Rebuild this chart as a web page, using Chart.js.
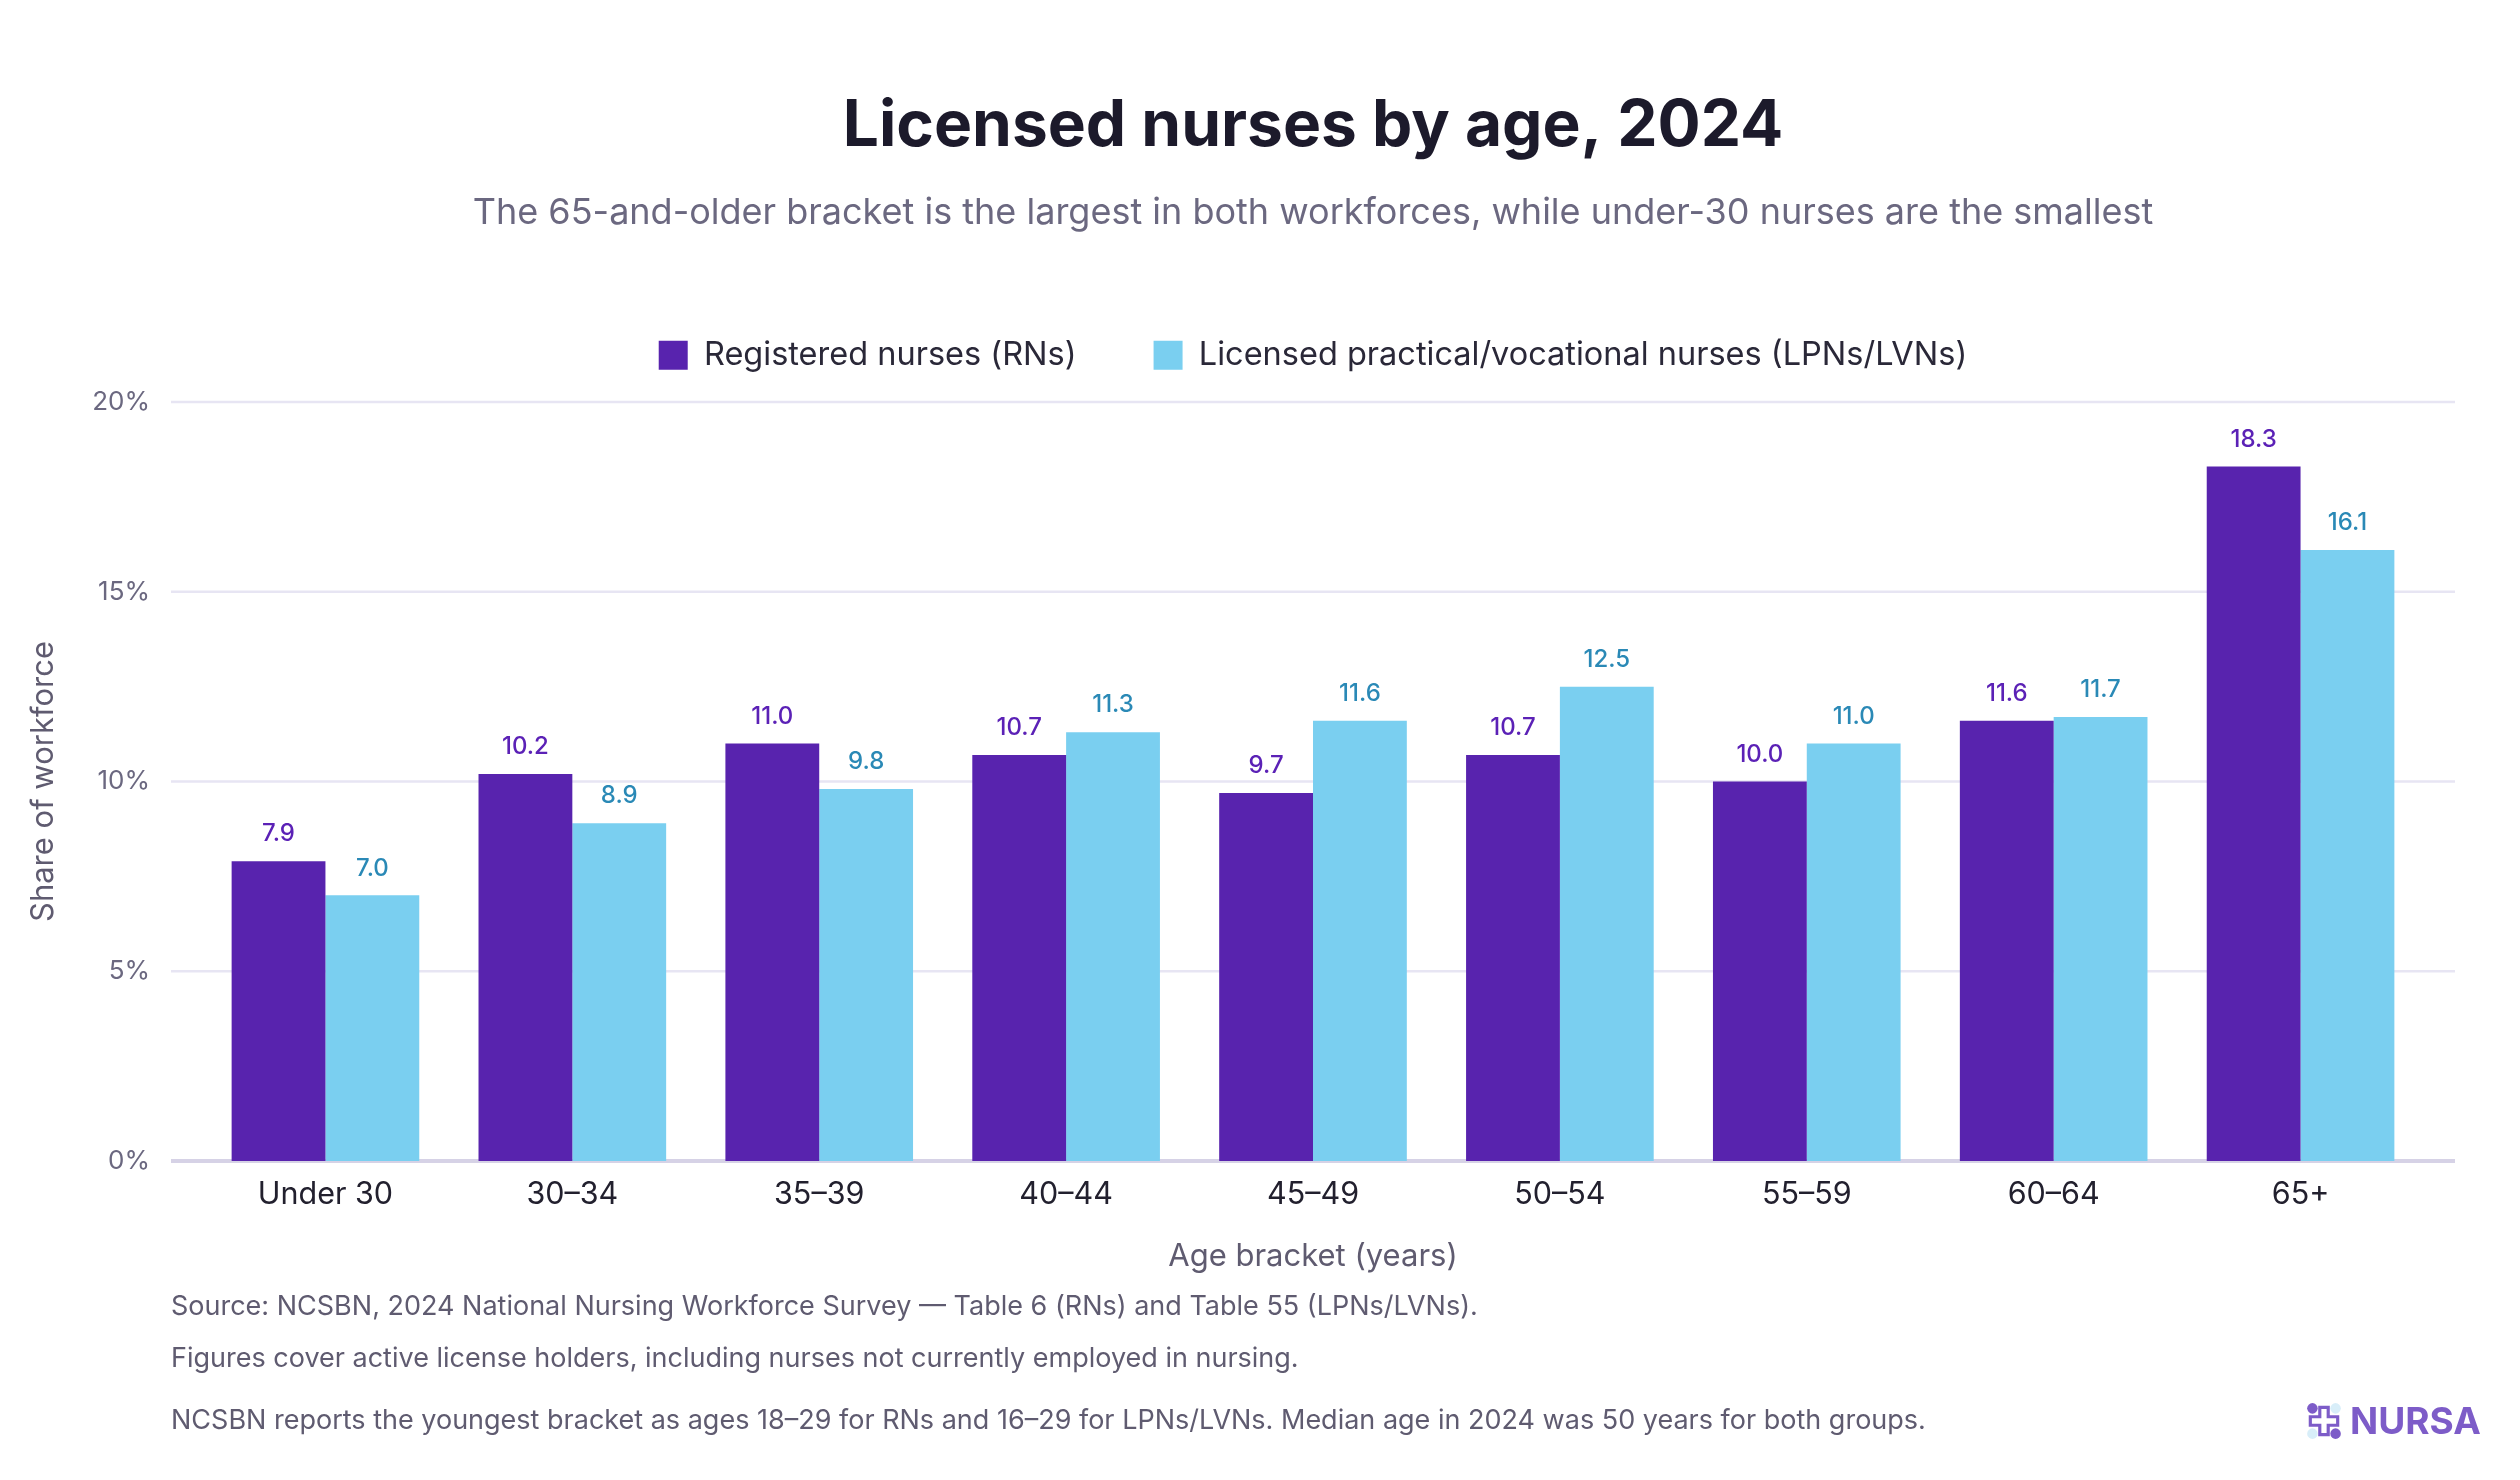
<!DOCTYPE html>
<html>
<head>
<meta charset="utf-8">
<script src="https://cdn.jsdelivr.net/npm/chart.js@4.4.1/dist/chart.umd.min.js"></script>
<style>
  body { margin: 0; background: #fff; }
  #wrap { position: relative; width: 2520px; height: 1480px; }
  .note { position: absolute; left: 171px; font: 27px Inter, sans-serif; color: #5f5b70; transform: translateY(-50%); white-space: nowrap; }
  #logo { position: absolute; left: 2304px; top: 1398px; display: flex; align-items: center; gap: 6px; font: 700 37px Inter, sans-serif; color: #7d5cc8; }
</style>
</head>
<body>
<div id="wrap">
  <canvas id="chart" width="2520" height="1480"></canvas>
  <div class="note" style="top:1305px">Source: NCSBN, 2024 National Nursing Workforce Survey — Table 6 (RNs) and Table 55 (LPNs/LVNs).</div>
  <div class="note" style="top:1357px">Figures cover active license holders, including nurses not currently employed in nursing.</div>
  <div class="note" style="top:1419px">NCSBN reports the youngest bracket as ages 18–29 for RNs and 16–29 for LPNs/LVNs. Median age in 2024 was 50 years for both groups.</div>
  <div id="logo">
    <svg width="40" height="40" viewBox="0 0 38 38">
      <circle cx="8" cy="7" r="5" fill="#7d5cc8"/>
      <circle cx="30" cy="31" r="5" fill="#7d5cc8"/>
      <circle cx="30" cy="7" r="5" fill="#d8eef9"/>
      <circle cx="8" cy="31" r="5" fill="#d8eef9"/>
      <path d="M15 6 h8 v9 h9 v8 h-9 v9 h-8 v-9 h-9 v-8 h9z" fill="#fff" stroke="#7d5cc8" stroke-width="3"/>
    </svg>
    <span>NURSA</span>
  </div>
</div>
<script>
const FONT = 'Inter, "Noto Sans", sans-serif';

const categories = ['Under 30', '30–34', '35–39', '40–44', '45–49', '50–54', '55–59', '60–64', '65+'];
const rnShare = [7.9, 10.2, 11.0, 10.7, 9.7, 10.7, 10.0, 11.6, 18.3];
const lpnShare = [7.0, 8.9, 9.8, 11.3, 11.6, 12.5, 11.0, 11.7, 16.1];
const yTicks = [0, 5, 10, 15, 20];
const yTickLabels = ['0%', '5%', '10%', '15%', '20%'];

const rnColor = '#5823ae';
const lpnColor = '#7acff0';

// horizontal grid lines (a bit wider than the plot area) and y tick labels
const gridLines = {
    id: 'gridLines',
    beforeDatasetsDraw(chart) {
        const {ctx, chartArea, scales} = chart;
        ctx.save();
        ctx.font = '26px ' + FONT;
        ctx.fillStyle = '#6b6880';
        ctx.textAlign = 'right';
        ctx.textBaseline = 'middle';
        yTicks.forEach((v, i) => {
            const y = scales.y.getPixelForValue(v);
            ctx.beginPath();
            ctx.strokeStyle = v === 0 ? '#d6d2e6' : '#e7e5f3';
            ctx.lineWidth = v === 0 ? 4 : 2.5;
            ctx.moveTo(chartArea.left - 31, y);
            ctx.lineTo(chartArea.right + 31, y);
            ctx.stroke();
            ctx.fillText(yTickLabels[i], chartArea.left - 52, y);
        });
        ctx.restore();
    }
};

// value labels on top of bars + the rotated y axis title
const valueLabels = {
    id: 'valueLabels',
    afterDatasetsDraw(chart) {
        const {ctx, chartArea} = chart;
        const labelColors = ['#5b21b6', '#2a89b6'];
        ctx.save();
        ctx.font = '500 24px ' + FONT;
        ctx.textAlign = 'center';
        ctx.textBaseline = 'middle';
        chart.data.datasets.forEach((ds, i) => {
            ctx.fillStyle = labelColors[i];
            chart.getDatasetMeta(i).data.forEach((bar, j) => {
                ctx.fillText(ds.data[j].toFixed(1), bar.x, bar.y - 27);
            });
        });
        ctx.translate(44, (chartArea.top + chartArea.bottom) / 2);
        ctx.rotate(-Math.PI / 2);
        ctx.fillStyle = '#5f5b70';
        ctx.font = '31px ' + FONT;
        ctx.fillText('Share of workforce', 0, 0);
        ctx.restore();
    }
};

// fixed legend height so the plot starts where it should
const legendHeight = {
    id: 'legendHeight',
    afterInit(chart) {
        const fit = chart.legend.fit;
        chart.legend.fit = function () {
            fit.call(this);
            this.height = 140;
        };
    }
};

new Chart(document.getElementById('chart').getContext('2d'), {
    type: 'bar',
    data: {
        labels: categories,
        datasets: [{
            label: 'Registered nurses (RNs)',
            data: rnShare,
            backgroundColor: rnColor,
            categoryPercentage: 0.76,
            barPercentage: 1.0
        },
        {
            label: 'Licensed practical/vocational nurses (LPNs/LVNs)',
            data: lpnShare,
            backgroundColor: lpnColor,
            categoryPercentage: 0.76,
            barPercentage: 1.0
        }]
    },
    options: {
        responsive: false,
        devicePixelRatio: 1,
        animation: false,
        layout: { padding: { left: 202, right: 96, top: 0, bottom: 189 } },
        scales: {
            x: {
                grid: { display: false, drawTicks: false },
                border: { display: false },
                ticks: { color: '#22202e', font: { family: FONT, size: 30.5 }, padding: 16 },
                title: {
                    display: true,
                    text: 'Age bracket (years)',
                    color: '#5f5b70',
                    font: { family: FONT, size: 31 },
                    padding: { top: 0, bottom: 16 }
                },
                afterFit: s => { s.height = 130; }
            },
            y: {
                min: 0,
                max: 20,
                grid: { display: false, drawTicks: false },
                border: { display: false },
                ticks: { display: false },
                afterFit: s => { s.width = 0; }
            }
        },
        plugins: {
            title: {
                display: true,
                text: 'Licensed nurses by age, 2024',
                color: '#1c1a2b',
                font: { family: FONT, size: 64, weight: 'bold' },
                padding: { top: 88, bottom: 27 }
            },
            subtitle: {
                display: true,
                text: 'The 65-and-older bracket is the largest in both workforces, while under-30 nurses are the smallest',
                color: '#6b6880',
                font: { family: FONT, size: 36 },
                padding: { top: 0, bottom: 27 }
            },
            legend: {
                position: 'top',
                labels: {
                    color: '#2a2838',
                    font: { family: FONT, size: 32.5 },
                    boxWidth: 29,
                    boxHeight: 29,
                    padding: 77
                }
            },
            tooltip: { enabled: false }
        }
    },
    plugins: [gridLines, valueLabels, legendHeight]
});
</script>
</body>
</html>
